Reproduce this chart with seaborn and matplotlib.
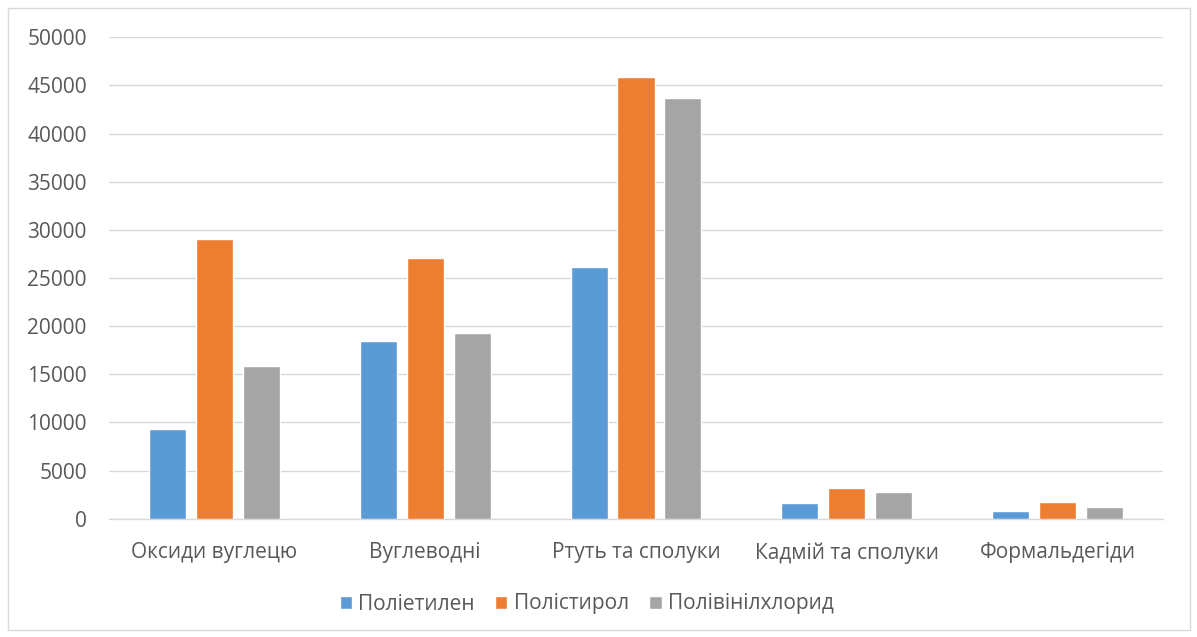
import matplotlib
matplotlib.use("Agg")
import matplotlib.pyplot as plt
import seaborn as sns
import pandas as pd
from matplotlib.patches import Rectangle

categories = ["Оксиди вуглецю", "Вуглеводні", "Ртуть та сполуки", "Кадмій та сполуки", "Формальдегіди"]
series_names = ["Поліетилен", "Полістирол", "Полівінілхлорид"]
polyethylene = [9350, 18450, 26150, 1630, 770]
polystyrene = [29000, 27080, 45850, 3220, 1700]
pvc = [15900, 19320, 43660, 2800, 1180]
colors = ["#5B9BD5", "#ED7D31", "#A5A5A5"]
yticks = list(range(0, 50001, 5000))

rows = []
for name, vals in zip(series_names, [polyethylene, polystyrene, pvc]):
    for c, v in zip(categories, vals):
        rows.append({"cat": c, "series": name, "val": v})
df = pd.DataFrame(rows)

sns.set_theme(style="white")
plt.rcParams["font.family"] = ["Open Sans", "DejaVu Sans"]
text_color = "#595959"

fig = plt.figure(figsize=(11.97, 6.37), dpi=100)
ax = fig.add_axes([109/1197, 1 - 518.7/637, (1163-109)/1197, (518.7-37.3)/637])

sns.barplot(data=df, x="cat", y="val", hue="series", order=categories,
            hue_order=series_names, palette=colors, saturation=1,
            width=0.668, gap=0.21, ax=ax, legend=True, zorder=3)

ax.set_ylim(0, 50000)
ax.set_yticks(yticks)
ax.set_yticklabels([str(t) for t in yticks])
ax.set_xlabel("")
ax.set_ylabel("")
ax.grid(axis="y", color="#D9D9D9", linewidth=1.0, zorder=0)
ax.set_axisbelow(True)
for s in ["top", "right", "left"]:
    ax.spines[s].set_visible(False)
ax.spines["bottom"].set_color("#D9D9D9")
ax.spines["bottom"].set_linewidth(1.0)
ax.tick_params(axis="y", length=0, pad=16, labelsize=15, labelcolor=text_color)
ax.tick_params(axis="x", length=0, pad=17, labelsize=15, labelcolor=text_color)

handles, labels = ax.get_legend_handles_labels()
ax.legend_.remove()
leg = fig.legend(handles, labels, loc="center", bbox_to_anchor=(0.49, 1 - 604/637),
                 ncol=3, frameon=False, fontsize=15, handlelength=0.58,
                 handleheight=0.58, handletextpad=0.3, columnspacing=1.0,
                 labelcolor=text_color)

fig.patches.append(Rectangle((8/1197, 1 - 630/637), (1190-8)/1197, (630-8)/637,
                             transform=fig.transFigure, fill=False,
                             edgecolor="#D9D9D9", linewidth=1.0))

fig.savefig("out.png", dpi=100, facecolor="white")
